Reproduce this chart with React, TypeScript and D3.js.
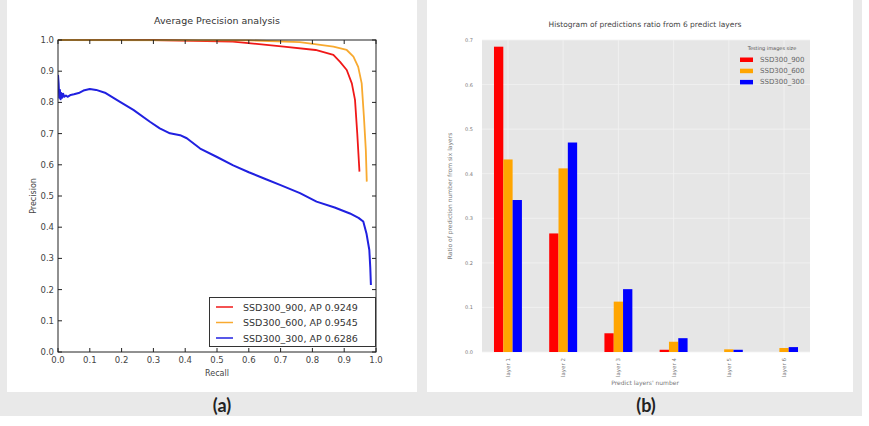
import * as d3 from "d3";

// precision / recall curves, [recall, precision]
const ssd900Curve: [number, number][] = [
  [0, 1], [0.3, 1.0], [0.55, 0.995], [0.71, 0.979], [0.81, 0.968], [0.866, 0.952],
  [0.887, 0.93], [0.908, 0.904], [0.924, 0.861], [0.934, 0.808], [0.941, 0.701], [0.948, 0.578],
];
const ssd600Curve: [number, number][] = [
  [0, 1], [0.6, 0.999], [0.76, 0.993], [0.866, 0.979], [0.908, 0.968], [0.929, 0.947],
  [0.944, 0.914], [0.955, 0.861], [0.962, 0.754], [0.968, 0.647], [0.971, 0.546],
];
const ssd300Curve: [number, number][] = [
  [0, 0.888], [0.002, 0.86], [0.004, 0.815], [0.006, 0.84], [0.008, 0.81], [0.01, 0.83],
  [0.013, 0.815], [0.016, 0.828], [0.02, 0.818], [0.025, 0.822], [0.03, 0.818], [0.04, 0.824],
  [0.05, 0.826], [0.065, 0.83], [0.08, 0.838], [0.1, 0.843], [0.12, 0.84], [0.15, 0.83],
  [0.195, 0.802], [0.237, 0.776], [0.289, 0.738], [0.32, 0.717], [0.352, 0.701], [0.384, 0.695],
  [0.405, 0.685], [0.447, 0.652], [0.5, 0.625], [0.551, 0.598], [0.6, 0.576], [0.656, 0.553],
  [0.7, 0.535], [0.761, 0.509], [0.813, 0.482], [0.87, 0.463], [0.918, 0.444], [0.945, 0.43],
  [0.96, 0.418], [0.97, 0.38], [0.979, 0.327], [0.982, 0.27], [0.984, 0.215],
];
const prLegend = ["SSD300_900, AP 0.9249", "SSD300_600, AP 0.9545", "SSD300_300, AP 0.6286"];
const prTicks = [0, 0.1, 0.2, 0.3, 0.4, 0.5, 0.6, 0.7, 0.8, 0.9, 1.0];

// share of predictions per layer
const layers = ["layer 1", "layer 2", "layer 3", "layer 4", "layer 5", "layer 6"];
const ratio900 = [0.685, 0.266, 0.042, 0.005, 0, 0];
const ratio600 = [0.432, 0.412, 0.113, 0.023, 0.006, 0.009];
const ratio300 = [0.341, 0.47, 0.141, 0.031, 0.005, 0.011];
const sizeNames = ["SSD300_900", "SSD300_600", "SSD300_300"];
const ratioTicks = [0, 0.1, 0.2, 0.3, 0.4, 0.5, 0.6, 0.7];

const lineColors = ["#f01818", "#f8aa30", "#2020e0"];
const barColors = ["#ff0000", "#ffa500", "#0000ff"];
const font = "DejaVu Sans, sans-serif";

function PrecisionChart() {
  const x = d3.scaleLinear().domain([0, 1]).range([58, 376]);
  const y = d3.scaleLinear().domain([0, 1]).range([352, 40]);
  const line = d3
    .line<[number, number]>()
    .x((d) => x(d[0]))
    .y((d) => y(d[1]));
  const curves = [ssd900Curve, ssd600Curve, ssd300Curve];
  const fmt = d3.format(".1f");

  return (
    <g fontFamily={font}>
      <text x={217} y={24} fontSize={9.5} textAnchor="middle" fill="#333">
        Average Precision analysis
      </text>
      <defs>
        <clipPath id="prClip">
          <rect x={58} y={39} width={318} height={314} />
        </clipPath>
      </defs>
      <g clipPath="url(#prClip)">
        {curves.map((c, i) => (
          <path key={i} d={line(c) ?? ""} fill="none" stroke={lineColors[i]} strokeWidth={i === 2 ? 2 : 1.8} strokeLinejoin="round" />
        ))}
      </g>
      <rect x={58} y={40} width={318} height={312} fill="none" stroke="#222" strokeWidth={1} />
      {prTicks.map((t) => (
        <g key={t}>
          <line x1={x(t)} x2={x(t)} y1={352} y2={348} stroke="#222" />
          <line x1={x(t)} x2={x(t)} y1={40} y2={44} stroke="#222" />
          <line x1={58} x2={62} y1={y(t)} y2={y(t)} stroke="#222" />
          <line x1={376} x2={372} y1={y(t)} y2={y(t)} stroke="#222" />
          <text x={x(t)} y={363} fontSize={8.5} textAnchor="middle" fill="#444">
            {fmt(t)}
          </text>
          <text x={54} y={y(t) + 3} fontSize={8.5} textAnchor="end" fill="#444">
            {fmt(t)}
          </text>
        </g>
      ))}
      <text x={217} y={376} fontSize={8} textAnchor="middle" fill="#444">
        Recall
      </text>
      <text transform="translate(36,196) rotate(-90)" fontSize={8} textAnchor="middle" fill="#444">
        Precision
      </text>
      <rect x={209.5} y={297.5} width={166} height={49} fill="#fff" stroke="#333" />
      {prLegend.map((label, i) => (
        <g key={label} transform={`translate(0,${307 + i * 15.5})`}>
          <line x1={216} x2={233} y1={0} y2={0} stroke={lineColors[i]} strokeWidth={1.5} />
          <text x={243} y={3.5} fontSize={9.5} fill="#333">
            {label}
          </text>
        </g>
      ))}
    </g>
  );
}

function RatioChart() {
  const x0 = d3.scaleBand<string>().domain(layers).range([482, 810]).paddingInner(0.494).paddingOuter(0.217);
  const x1 = d3.scaleBand<number>().domain([0, 1, 2]).range([0, x0.bandwidth()]);
  const y = d3.scaleLinear().domain([0, 0.7]).range([352, 40]);
  const series = [ratio900, ratio600, ratio300];
  const fmt = d3.format(".1f");

  return (
    <g fontFamily={font}>
      <text x={645} y={27} fontSize={7.5} textAnchor="middle" fill="#444">
        Histogram of predictions ratio from 6 predict layers
      </text>
      <rect x={482} y={40} width={328} height={312} fill="#e6e6e6" />
      {ratioTicks.map((t) => (
        <g key={t}>
          <line x1={482} x2={810} y1={y(t)} y2={y(t)} stroke="#f2f2f2" strokeWidth={0.8} />
          <text x={473} y={y(t) + 2} fontSize={5} textAnchor="end" fill="#777">
            {fmt(t)}
          </text>
        </g>
      ))}
      {layers.map((l) => (
        <line
          key={l}
          x1={(x0(l) ?? 0) + x0.bandwidth() / 2}
          x2={(x0(l) ?? 0) + x0.bandwidth() / 2}
          y1={40}
          y2={352}
          stroke="#f2f2f2"
          strokeWidth={0.8}
        />
      ))}
      {layers.map((l, li) => (
        <g key={l} transform={`translate(${x0(l)},0)`}>
          {series.map((s, si) => (
            <rect
              key={si}
              x={x1(si)}
              y={y(s[li])}
              width={x1.bandwidth()}
              height={352 - y(s[li])}
              fill={barColors[si]}
            />
          ))}
          <text
            transform={`translate(${x0.bandwidth() / 2 + 2},358) rotate(-90)`}
            fontSize={5.5}
            textAnchor="end"
            fill="#777"
          >
            {l}
          </text>
        </g>
      ))}
      <text x={645} y={385} fontSize={6} textAnchor="middle" fill="#777">
        Predict layers' number
      </text>
      <text transform="translate(452,196) rotate(-90)" fontSize={6} textAnchor="middle" fill="#777">
        Ratio of prediction number from six layers
      </text>
      <text x={772} y={50} fontSize={5} textAnchor="middle" fill="#555">
        Testing images size
      </text>
      {sizeNames.map((n, i) => (
        <g key={n} transform={`translate(0,${59.5 + i * 11.2})`}>
          <rect x={740} y={-2} width={13} height={4.5} fill={barColors[i]} />
          <text x={760} y={2.5} fontSize={7} fill="#666">
            {n}
          </text>
        </g>
      ))}
    </g>
  );
}

export default function App() {
  return (
    <svg
      width={869}
      height={426}
      style={{ position: "absolute", left: 0, top: 0, background: "#fff" }}
    >
      <rect x={0} y={0} width={862} height={416} fill="#e9e9e9" />
      <rect x={7} y={0} width={410} height={392} fill="#fff" />
      <rect x={427} y={0} width={426} height={392} fill="#fff" />
      <PrecisionChart />
      <RatioChart />
      <text x={222} y={412} fontSize={18} fontWeight="bold" fontFamily="Lato, sans-serif" textAnchor="middle" fill="#222">
        (a)
      </text>
      <text x={646} y={412} fontSize={18} fontWeight="bold" fontFamily="Lato, sans-serif" textAnchor="middle" fill="#222">
        (b)
      </text>
    </svg>
  );
}
